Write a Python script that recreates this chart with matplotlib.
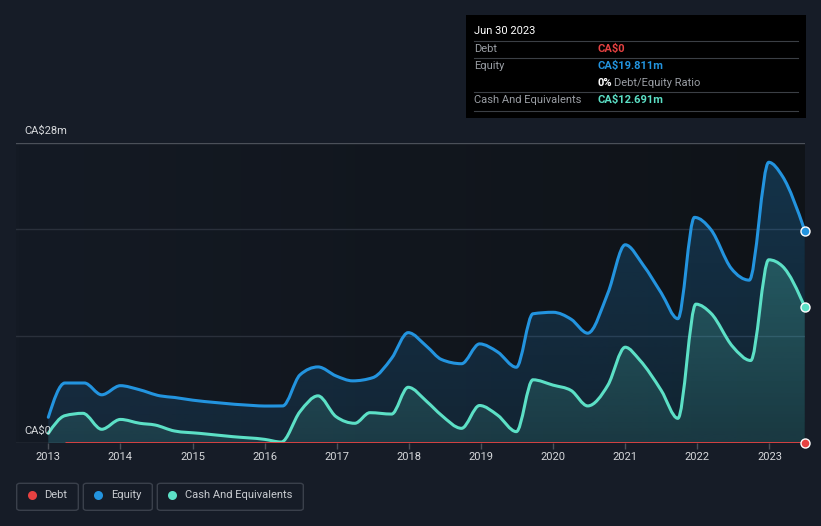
import numpy as np
import matplotlib
matplotlib.use('Agg')
import matplotlib.pyplot as plt
from matplotlib.path import Path
from matplotlib.patches import PathPatch, FancyBboxPatch
from matplotlib.colors import to_rgb

plt.rcParams['font.family'] = ['Roboto', 'DejaVu Sans']

# Data (CA$ millions, decimal years)
equity_years = [2013.0, 2013.23, 2013.5, 2013.74, 2014.0, 2014.25, 2014.55, 2014.75,
                2015.0, 2015.33, 2015.84, 2016.0, 2016.25, 2016.49, 2016.74, 2016.99,
                2017.22, 2017.5, 2017.76, 2017.99, 2018.25, 2018.45, 2018.73, 2018.98,
                2019.23, 2019.49, 2019.72, 2020.0, 2020.25, 2020.48, 2020.76, 2021.0,
                2021.25, 2021.5, 2021.73, 2021.96, 2022.19, 2022.47, 2022.72, 2022.99,
                2023.18, 2023.49]
equity = [2.4, 5.6, 5.6, 4.5, 5.35, 5.0, 4.4, 4.25,
          4.0, 3.77, 3.5, 3.45, 3.46, 6.36, 7.1, 6.26,
          5.8, 6.1, 7.9, 10.3, 9.0, 7.8, 7.4, 9.25,
          8.5, 7.07, 12.06, 12.2, 11.55, 10.25, 14.0, 18.5,
          16.6, 14.0, 11.6, 21.06, 19.9, 16.3, 15.2, 26.2,
          24.9, 19.811]

cash_years = [2013.0, 2013.23, 2013.48, 2013.74, 2014.0, 2014.27, 2014.48, 2014.75,
              2015.1, 2015.56, 2016.0, 2016.23, 2016.49, 2016.74, 2016.99, 2017.25,
              2017.46, 2017.76, 2017.99, 2018.25, 2018.45, 2018.73, 2018.98, 2019.23,
              2019.49, 2019.72, 2020.0, 2020.25, 2020.48, 2020.76, 2021.0, 2021.2,
              2021.5, 2021.73, 2021.98, 2022.19, 2022.49, 2022.74, 2022.99, 2023.18,
              2023.49]
cash = [0.9, 2.55, 2.77, 1.28, 2.2, 1.84, 1.68, 1.12,
        0.9, 0.59, 0.34, 0.09, 2.93, 4.4, 2.46, 1.84,
        2.83, 2.7, 5.2, 3.86, 2.6, 1.37, 3.5, 2.6,
        1.06, 5.9, 5.4, 4.9, 3.46, 5.4, 8.94, 7.75,
        4.9, 2.3, 12.96, 12.1, 9.0, 7.7, 17.1, 16.5,
        12.691]

debt_years = [2013.23, 2023.49]
debt = [0.0, 0.0]

year_ticks = list(range(2013, 2024))
y_tick_labels = ['CA$0', 'CA$28m']
tooltip_date = 'Jun 30 2023'

BG = '#161c27'
DEBT_C = '#e64141'
EQ_C = '#2394df'
CASH_C = '#5ce0c6'
W, H = 821, 526
FS = 8


def px(x, y):
    return x / W, 1 - y / H


def monotone_path(xs, ys):
    # d3-style monotoneX curve as cubic Bezier segments
    x = np.asarray(xs, float)
    y = np.asarray(ys, float)
    h = np.diff(x)
    s = np.diff(y) / h
    t = np.zeros_like(x)
    for i in range(1, len(x) - 1):
        p = (s[i - 1] * h[i] + s[i] * h[i - 1]) / (h[i - 1] + h[i])
        t[i] = (np.sign(s[i - 1]) + np.sign(s[i])) * min(abs(s[i - 1]), abs(s[i]), 0.5 * abs(p))
    t[0] = (3 * s[0] - t[1]) / 2
    t[-1] = (3 * s[-1] - t[-2]) / 2
    verts = [(x[0], y[0])]
    codes = [Path.MOVETO]
    for i in range(len(x) - 1):
        d = h[i] / 3
        verts += [(x[i] + d, y[i] + d * t[i]), (x[i + 1] - d, y[i + 1] - d * t[i + 1]), (x[i + 1], y[i + 1])]
        codes += [Path.CURVE4] * 3
    return verts, codes


def draw_series(ax, xs, ys, color, a_top, a_bot, z):
    verts, codes = monotone_path(xs, ys)
    fill_path = Path(verts + [(xs[-1], 0), (xs[0], 0), (xs[0], 0)],
                     codes + [Path.LINETO, Path.LINETO, Path.CLOSEPOLY])
    patch = PathPatch(fill_path, facecolor='none', edgecolor='none', transform=ax.transData)
    ax.add_patch(patch)
    grad = np.zeros((256, 1, 4))
    grad[..., :3] = to_rgb(color)
    grad[:, 0, 3] = np.linspace(a_top, a_bot, 256)
    im = ax.imshow(grad, extent=[xs[0], xs[-1], 0, 28], origin='upper', aspect='auto', zorder=z)
    im.set_clip_path(patch)
    ax.add_patch(PathPatch(Path(verts, codes), facecolor='none', edgecolor=color, lw=2.2,
                           joinstyle='round', capstyle='round', zorder=z + 0.5))


fig = plt.figure(figsize=(W / 100, H / 100), dpi=100, facecolor=BG)
ax = fig.add_axes([16 / W, 1 - 443 / H, (805 - 16) / W, 300 / H])
ax.set_facecolor(BG)

x0, x1 = 2012.552, 2023.493

# darker plot background, slightly fading toward the right
bg = np.zeros((1, 256, 3))
bg[0, :, :] = np.linspace(to_rgb('#141a24'), to_rgb('#0f1318'), 256)
ax.imshow(bg, extent=[x0, x1, 0, 28], aspect='auto', zorder=0)

# grid lines
for v in [10, 20]:
    ax.axhline(v, color='#2a303b', lw=1, zorder=1)
ax.axhline(28, color='#4b5059', lw=1, zorder=1)
ax.axhline(0, color='#4b5059', lw=1, zorder=1)

draw_series(ax, equity_years, equity, EQ_C, 0.26, 0.12, 2)
draw_series(ax, cash_years, cash, CASH_C, 0.32, 0.12, 3)
ax.plot(debt_years, debt, color=DEBT_C, lw=2, zorder=5, solid_capstyle='butt')

# end markers
for yv, c in [(equity[-1], EQ_C), (cash[-1], CASH_C), (debt[-1], DEBT_C)]:
    ax.plot([equity_years[-1]], [yv], 'o', ms=6.5, mfc=c, mec='white', mew=1, zorder=6, clip_on=False)

ax.set_xlim(x0, x1)
ax.set_ylim(0, 28)
for sp in ax.spines.values():
    sp.set_visible(False)
ax.set_yticks([])
ax.set_xticks(year_ticks)
ax.set_xticklabels([str(y) for y in year_ticks])
ax.tick_params(axis='x', colors='#4b5059', length=4, width=1, pad=2.5, labelsize=FS, labelcolor='#d6d8db')

# y labels
fig.text(*px(24, 131), y_tick_labels[1].replace('$', '\\$'), color='#d6d8db', fontsize=FS, va='center')
fig.text(*px(24, 431), y_tick_labels[0].replace('$', '\\$'), color='#d6d8db', fontsize=FS, va='center')

# tooltip box
tx, ty = px(466, 118)
fig.add_artist(FancyBboxPatch((tx, ty), 340 / W, 103 / H, boxstyle='square,pad=0',
                              facecolor='black', edgecolor='none', transform=fig.transFigure))
for yy in [41.3, 58.3, 92.3, 110.7]:
    fig.add_artist(plt.Line2D([474 / W, 798 / W], [1 - yy / H] * 2, color='#3b3f45', lw=0.8,
                              transform=fig.transFigure))
fig.text(*px(474, 31), tooltip_date, color='white', fontsize=FS, va='center')
fig.text(*px(474, 49), 'Debt', color='#9a9ea4', fontsize=FS, va='center')
fig.text(*px(597, 49), 'CA\\$%g' % debt[-1], color=DEBT_C, fontsize=FS, va='center', fontweight='bold')
fig.text(*px(474, 66), 'Equity', color='#9a9ea4', fontsize=FS, va='center')
fig.text(*px(597, 66), 'CA\\$%.3fm' % equity[-1], color=EQ_C, fontsize=FS, va='center', fontweight='bold')
fig.text(*px(597, 83), '%d%%' % round(100 * debt[-1] / equity[-1]), color='white', fontsize=FS,
         va='center', fontweight='bold')
fig.text(*px(614, 83), 'Debt/Equity Ratio', color='#9a9ea4', fontsize=FS, va='center')
fig.text(*px(474, 100), 'Cash And Equivalents', color='#9a9ea4', fontsize=FS, va='center')
fig.text(*px(597, 100), 'CA\\$%.3fm' % cash[-1], color=CASH_C, fontsize=FS, va='center', fontweight='bold')

# legend boxes
legend_items = [('Debt', DEBT_C, 16.7, 78.3), ('Equity', EQ_C, 83.3, 152.3),
                ('Cash And Equivalents', CASH_C, 157.3, 303.3)]
for label, c, bx0, bx1 in legend_items:
    lx, ly = px(bx0, 510.3)
    fig.add_artist(FancyBboxPatch((lx, ly), (bx1 - bx0) / W, 27 / H,
                                  boxstyle='round,pad=0,rounding_size=0.004',
                                  facecolor='none', edgecolor='#3a404b', lw=1, transform=fig.transFigure))
    fig.add_artist(plt.Line2D([(bx0 + 15) / W], [1 - 495 / H], marker='o', ms=6.5, color=c,
                              mec='none', transform=fig.transFigure))
    fig.text(*px(bx0 + 27.5, 495), label, color='#c9ccd1', fontsize=FS, va='center')

fig.savefig('out.png', dpi=100, facecolor=BG)
